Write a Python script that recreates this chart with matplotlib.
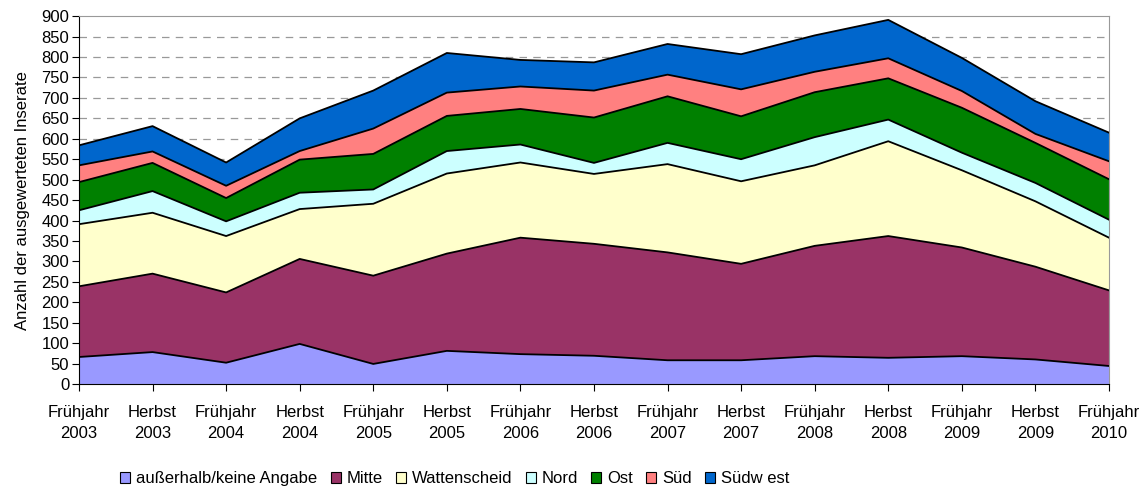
import numpy as np
import matplotlib
matplotlib.use("Agg")
import matplotlib.pyplot as plt
from matplotlib.patches import Patch

plt.rcParams['font.family'] = ['Liberation Sans', 'DejaVu Sans']

# Zeitpunkte
perioden = ["Frühjahr\n2003", "Herbst\n2003", "Frühjahr\n2004", "Herbst\n2004",
            "Frühjahr\n2005", "Herbst\n2005", "Frühjahr\n2006", "Herbst\n2006",
            "Frühjahr\n2007", "Herbst\n2007", "Frühjahr\n2008", "Herbst\n2008",
            "Frühjahr\n2009", "Herbst\n2009", "Frühjahr\n2010"]

# Inserate je Stadtbezirk
ausserhalb = [66, 78, 52, 98, 49, 81, 73, 69, 58, 58, 68, 64, 68, 60, 44]
mitte = [173, 192, 172, 208, 216, 238, 285, 274, 264, 236, 270, 298, 266, 227, 185]
wattenscheid = [152, 149, 138, 122, 176, 196, 184, 171, 216, 202, 197, 232, 189, 160, 129]
nord = [34, 53, 36, 40, 35, 55, 44, 27, 52, 54, 69, 53, 43, 45, 44]
ost = [69, 69, 57, 81, 87, 86, 87, 111, 114, 105, 110, 101, 110, 98, 99]
sued = [41, 28, 30, 21, 62, 57, 55, 66, 53, 66, 50, 49, 41, 22, 44]
suedwest = [49, 62, 57, 80, 93, 97, 65, 69, 75, 86, 89, 94, 81, 80, 70]

namen = ["außerhalb/keine Angabe", "Mitte", "Wattenscheid", "Nord", "Ost", "Süd", "Südw est"]
farben = ["#9999FF", "#993366", "#FFFFCC", "#CCFFFF", "#008000", "#FF8080", "#0066CC"]

reihen = [ausserhalb, mitte, wattenscheid, nord, ost, sued, suedwest]

fs = 12

fig = plt.figure(figsize=(11.48, 4.91), dpi=100)
ax = fig.add_axes([0.0688, 0.218, 0.8972, 0.749])

x = np.arange(len(perioden))
unten = np.zeros(len(x))
for werte, farbe in zip(reihen, farben):
    oben = unten + np.array(werte)
    ax.fill_between(x, unten, oben, facecolor=farbe, edgecolor='none', zorder=2)
    ax.plot(x, oben, color='black', lw=1.3, zorder=3)
    unten = oben

ax.set_xlim(0, len(x) - 1)
ax.set_ylim(0, 900)
ax.set_yticks(range(0, 901, 50))
ax.set_xticks(x)
ax.set_xticklabels(perioden, fontsize=fs, linespacing=1.55)
ax.tick_params(axis='y', labelsize=fs, direction='out', length=5, pad=2)
ax.tick_params(axis='x', direction='out', length=5, pad=10)

for y in range(50, 900, 50):
    ax.axhline(y, color='#999999', lw=0.9, ls=(0, (6, 5)), zorder=1)

ax.spines['top'].set_color('#999999')
ax.spines['right'].set_color('#999999')
ax.spines['left'].set_color('black')
ax.spines['bottom'].set_color('black')
ax.spines['bottom'].set_zorder(4)

ax.set_ylabel("Anzahl der ausgewerteten Inserate", fontsize=fs, labelpad=8)

handles = [Patch(facecolor=f, edgecolor='black', lw=0.8) for f in farben]
fig.legend(handles, namen, loc='center', bbox_to_anchor=(0.396, 0.025), ncol=7,
           frameon=False, fontsize=fs, handlelength=0.6, handleheight=0.6,
           handletextpad=0.35, columnspacing=0.8, borderpad=0)

fig.savefig("out.png", dpi=100)
